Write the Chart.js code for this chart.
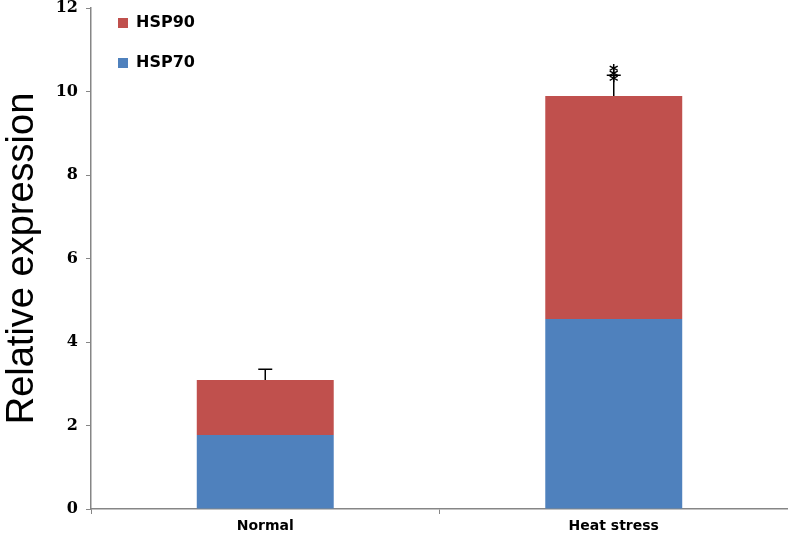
<!DOCTYPE html>
<html>
<head>
<meta charset="utf-8">
<script src="https://cdn.jsdelivr.net/npm/chart.js@4.4.0/dist/chart.umd.min.js"></script>
<style>
  html, body { margin: 0; padding: 0; background: #fff; }
  #wrap { width: 788px; height: 545px; }
</style>
</head>
<body>
<div id="wrap"><canvas id="grafico" width="788" height="545"></canvas></div>
<script>
// dados
const categorias = ['Normal', 'Heat stress'];
const hsp70 = [1.77, 4.55];
const hsp90 = [1.32, 5.34];
const erros = [0.26, 0.5];
const marcas = ['', '***'];
const ticksY = [0, 2, 4, 6, 8, 10, 12];

const corVermelho = '#C0504D';
const corAzul = '#4F81BD';

// barras de erro + asteriscos de significância
const pluginErros = {
    id: 'erros',
    afterDatasetsDraw(chart) {
        const ctx = chart.ctx;
        const y = chart.scales.y;
        const metaTopo = chart.getDatasetMeta(1);
        ctx.save();
        ctx.strokeStyle = '#000';
        ctx.fillStyle = '#000';
        ctx.lineWidth = 1.5;
        categorias.forEach((c, i) => {
            const barra = metaTopo.data[i];
            const total = hsp70[i] + hsp90[i];
            const yTopo = y.getPixelForValue(total);
            const yErro = y.getPixelForValue(total + erros[i]);
            ctx.beginPath();
            ctx.moveTo(barra.x, yTopo);
            ctx.lineTo(barra.x, yErro);
            ctx.moveTo(barra.x - 7, yErro);
            ctx.lineTo(barra.x + 7, yErro);
            ctx.stroke();
            if (marcas[i]) {
                ctx.font = 'bold 18px "DejaVu Sans"';
                ctx.textAlign = 'center';
                ctx.textBaseline = 'middle';
                for (let k = 0; k < marcas[i].length; k++) {
                    ctx.fillText('*', barra.x, yErro - 3 + k * 5);
                }
            }
        });
        ctx.restore();
    }
};

// legenda dentro da área do gráfico
const pluginLegenda = {
    id: 'legendaInterna',
    afterDraw(chart) {
        const ctx = chart.ctx;
        const area = chart.chartArea;
        const itens = [chart.data.datasets[1], chart.data.datasets[0]];
        ctx.save();
        ctx.font = 'bold 16px "DejaVu Sans"';
        ctx.textBaseline = 'middle';
        ctx.textAlign = 'left';
        itens.forEach((ds, k) => {
            const yy = area.top + 15 + k * 40;
            ctx.fillStyle = ds.backgroundColor;
            ctx.fillRect(area.left + 27, yy - 5, 10, 10);
            ctx.fillStyle = '#000';
            ctx.fillText(ds.label, area.left + 45, yy);
        });
        ctx.restore();
    }
};

const ctx = document.getElementById('grafico').getContext('2d');
const grafico = new Chart(ctx, {
    type: 'bar',
    data: {
        labels: categorias,
        datasets: [
            { label: 'HSP70', data: hsp70, backgroundColor: corAzul, barPercentage: 0.393, categoryPercentage: 1 },
            { label: 'HSP90', data: hsp90, backgroundColor: corVermelho, barPercentage: 0.393, categoryPercentage: 1 }
        ]
    },
    options: {
        responsive: false,
        animation: false,
        layout: { padding: { top: 8, right: 0, bottom: 0, left: 0 } },
        plugins: {
            legend: { display: false },
            tooltip: { enabled: false }
        },
        scales: {
            x: {
                stacked: true,
                grid: { drawOnChartArea: false, drawTicks: true, tickLength: 5, color: '#868686' },
                border: { color: '#868686', width: 1.5 },
                ticks: { color: '#000', font: { family: 'DejaVu Sans', weight: 'bold', size: 14 }, padding: 4 },
                afterFit: (s) => { s.height = 36; s.paddingLeft = 0; s.paddingRight = 0; }
            },
            y: {
                stacked: true,
                min: 0,
                max: 12,
                afterBuildTicks: (s) => { s.ticks = ticksY.map(v => ({ value: v })); },
                grid: { drawOnChartArea: false, drawTicks: true, tickLength: 5, color: '#868686' },
                border: { color: '#868686', width: 1.5 },
                ticks: { color: '#000', font: { family: 'DejaVu Serif', weight: 'bold', size: 16 }, padding: 8 },
                title: {
                    display: true,
                    text: 'Relative expression',
                    color: '#000',
                    font: { family: 'Liberation Sans', size: 38 },
                    padding: { top: 0, bottom: 0 }
                },
                afterFit: (s) => { s.width = 91; s.paddingTop = 0; s.paddingBottom = 0; }
            }
        }
    },
    plugins: [pluginErros, pluginLegenda]
});
</script>
</body>
</html>
